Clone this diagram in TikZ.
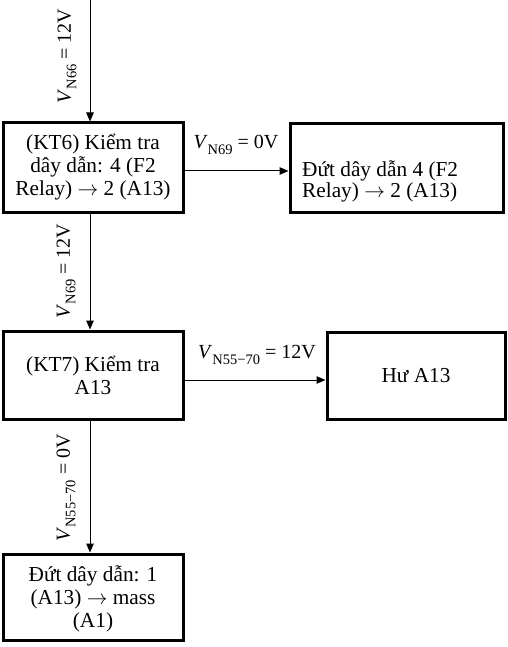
\documentclass[tikz,border=0pt]{standalone}
\usepackage{fontspec}
\setmainfont{Liberation Serif}
\usetikzlibrary{arrows.meta}
% voltage label: italic V, upright subscript, value
\newcommand\vlab[2]{\textit{V}\raisebox{-0.28em}{\fontsize{14.5}{15}\selectfont #1}\ = #2}
% long thin arrow used inside the box texts
\newcommand\rarr{\ensuremath{\rightarrow}}

\begin{document}
\begin{tikzpicture}[x=1pt,y=-1pt,
  box/.style={draw, line width=3pt, inner sep=0pt},
  boxtext/.style={align=center, font=\fontsize{21.3}{23}\selectfont, inner sep=0pt},
  link/.style={line width=1pt, -{Triangle[length=9pt,width=7.5pt]}},
  lab/.style={font=\fontsize{20}{22}\selectfont, inner sep=0pt}]
\useasboundingbox (0,0) rectangle (507,647);

% boxes
\node[box, minimum width=180pt, minimum height=89pt] (kt6) at (93,167.5) {};
\node[box, minimum width=213pt, minimum height=88pt] (d4) at (396.5,168) {};
\node[box, minimum width=180pt, minimum height=88pt] (kt7) at (93,375) {};
\node[box, minimum width=178pt, minimum height=87pt] (hu) at (416,375.5) {};
\node[box, minimum width=180pt, minimum height=86pt] (d1) at (93,597) {};

% box texts
\node[boxtext] (kt6t) at (kt6) {(KT6) Kiểm tra\\dây dẫn: 4 (F2\\Relay) \rarr{} 2 (A13)};
\node[boxtext, align=left, font=\fontsize{21.3}{18}\selectfont, anchor=base west] (d4t) at (302,197) {Đứt dây dẫn 4 (F2\\Relay) \rarr{} 2 (A13)};
\node[boxtext] (kt7t) at (kt7) {(KT7) Kiểm tra\\A13};
\node[boxtext] (hut) at (hu) {Hư A13};
\node[boxtext] (d1t) at (93,599) {Đứt dây dẫn: 1\\(A13) \rarr{} mass\\(A1)};

% connectors
\coordinate (start) at (90,0);
\coordinate (r1) at (0,171);
\coordinate (r2) at (0,380);
\draw[link] (start) -- (start |- kt6.north);
\draw[link] (start |- kt6.south) -- (start |- kt7.north);
\draw[link] (start |- kt7.south) -- (start |- d1.north);
\draw[link] (kt6.east |- r1) -- (d4.west |- r1);
\draw[link] (kt7.east |- r2) -- (hu.west |- r2);

% connector labels
\node[lab, rotate=90] (l1) at (67,56) {\vlab{N66}{12V}};
\node[lab, rotate=90] (l2) at (66,271) {\vlab{N69}{12V}};
\node[lab, rotate=90] (l3) at (66,488) {\vlab{N55−70}{0V}};
\node[lab] (l4) at (236,145) {\vlab{N69}{0V}};
\node[lab] (l5) at (257,355) {\vlab{N55−70}{12V}};
\end{tikzpicture}
\end{document}
